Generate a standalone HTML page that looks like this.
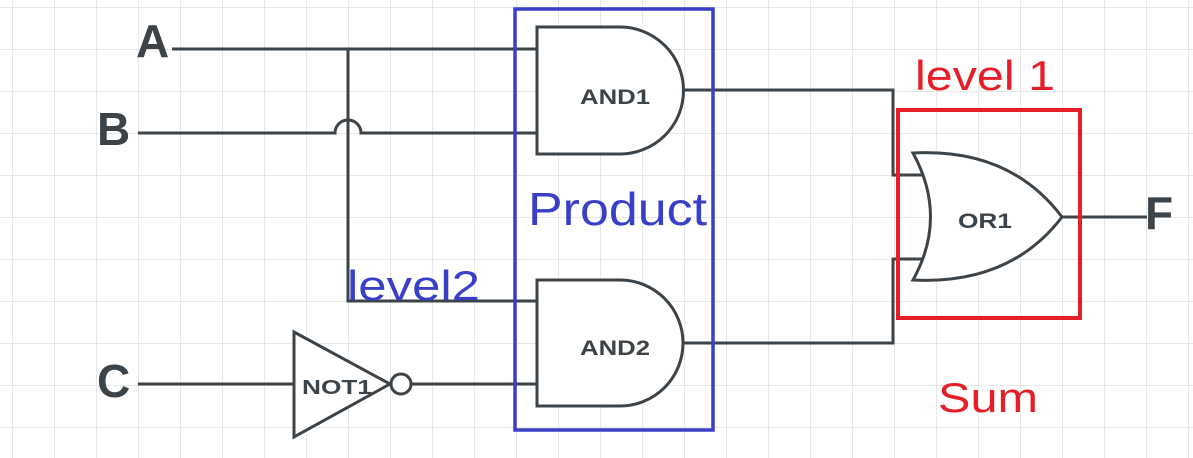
<!DOCTYPE html>
<html><head><style>
html,body{margin:0;padding:0;background:#fff;}
svg{display:block;}
</style></head><body>
<svg width="1193" height="458" viewBox="0 0 1193 458" xmlns="http://www.w3.org/2000/svg">
<defs>
<pattern id="g" x="12" y="7" width="42" height="42" patternUnits="userSpaceOnUse">
<path d="M0 0H42M0 0V42" stroke="#e0e0e0" stroke-width="1.5" fill="none"/>
</pattern>
</defs>
<rect width="1193" height="458" fill="url(#g)"/>
<g stroke="#3d4449" stroke-width="3" fill="none">
<path d="M172 49H537"/>
<path d="M348 49V301H537"/>
<path d="M138 133H335A13 13 0 0 1 361 133H537"/>
<path d="M684 90H893V175H925"/>
<path d="M684 343H893V259H925"/>
<path d="M138 384H294"/>
<path d="M411 384H537"/>
<path d="M1062 217H1147"/>
<path d="M537 27H620A63 63 0 0 1 620 154H537Z" fill="#fff"/>
<path d="M537 280H620A63 63 0 0 1 620 406H537Z" fill="#fff"/>
<path d="M913 153Q948 217 913 280Q1010 285 1062 217Q1010 148 913 153Z" fill="#fff"/>
<path d="M294 332L390 384L294 437Z" fill="#fff"/>
<circle cx="401" cy="384" r="10" fill="#fff"/>
</g>
<rect x="515" y="9" width="198" height="421" fill="none" stroke="#3a3fc8" stroke-width="3.5"/>
<rect x="898" y="110" width="182" height="208" fill="none" stroke="#e61e27" stroke-width="4"/>
<g font-family="Liberation Sans, sans-serif" fill="#3d4449" font-weight="bold">
<text x="136" y="57" font-size="46">A</text>
<text x="97" y="145" font-size="46">B</text>
<text x="97" y="397" font-size="46">C</text>
<text x="1145" y="229" font-size="46">F</text>
<text x="580" y="104" font-size="21" textLength="70" lengthAdjust="spacingAndGlyphs">AND1</text>
<text x="580" y="355" font-size="21" textLength="70" lengthAdjust="spacingAndGlyphs">AND2</text>
<text x="958" y="228" font-size="21" textLength="54" lengthAdjust="spacingAndGlyphs">OR1</text>
<text x="302" y="394" font-size="20" textLength="70" lengthAdjust="spacingAndGlyphs">NOT1</text>
</g>
<g font-family="Liberation Sans, sans-serif">
<text x="915" y="90" font-size="42" fill="#e61e27" textLength="140" lengthAdjust="spacingAndGlyphs">level 1</text>
<text x="938" y="412" font-size="42" fill="#e61e27" textLength="100" lengthAdjust="spacingAndGlyphs">Sum</text>
<text x="528" y="225" font-size="46" fill="#3a3fc8" textLength="179" lengthAdjust="spacingAndGlyphs">Product</text>
<text x="347" y="300" font-size="42" fill="#3a3fc8" textLength="133" lengthAdjust="spacingAndGlyphs">level2</text>
</g>
</svg>
</body></html>
